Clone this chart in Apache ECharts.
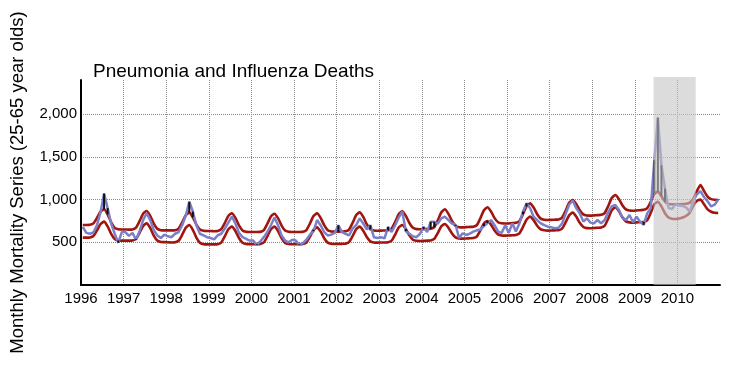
<!DOCTYPE html>
<html><head><meta charset="utf-8">
<script src="https://cdn.jsdelivr.net/npm/echarts@6/dist/echarts.min.js"></script>
<style>html,body{margin:0;padding:0;background:#fff}#c{width:733px;height:366px}</style>
</head><body><div id="c"></div>
<script>
const startYear = 1996;
const yearTicks = [1996,1997,1998,1999,2000,2001,2002,2003,2004,2005,2006,2007,2008,2009,2010];
const yTicks = [500, 1000, 1500, 2000];

const observed = [
  680,610,600,615,700,850,1070,900,720,600,495,620,
  620,575,610,530,630,760,840,760,640,580,550,590,
  570,560,600,620,700,810,975,860,700,600,580,560,
  550,535,580,600,660,730,800,720,610,560,540,520,
  520,470,510,560,620,700,790,700,580,520,500,530,
  520,470,490,530,590,630,760,700,620,580,590,610,
  700,620,600,580,660,700,780,720,650,700,560,550,
  560,545,680,620,700,790,860,630,600,570,560,600,
  680,620,740,740,720,780,800,760,720,705,550,605,
  586,600,625,640,650,690,725,760,700,625,610,700,
  610,722,625,720,860,956,900,800,760,722,700,683,
  675,664,670,720,830,940,990,900,840,742,781,730,
  722,761,722,761,850,920,937,880,790,761,820,735,
  800,740,705,839,900,1460,1960,1400,1130,900,890,950,
  930,925,905,860,990,1060,1100,1030,980,920,940,1000
];
const upperThreshold = [
  703,703,705,721,785,859,886,827,733,669,652,650,
  650,648,650,672,748,834,867,810,719,658,642,640,
  640,639,641,661,733,816,847,793,707,649,634,632,
  632,630,632,653,726,809,840,785,698,639,623,621,
  621,620,622,642,717,803,835,782,696,638,623,621,
  621,621,623,643,720,807,840,786,700,642,627,625,
  625,626,628,648,727,817,851,797,711,653,638,636,
  637,638,640,659,738,829,863,810,726,669,654,652,
  654,656,658,677,757,851,886,833,749,692,677,675,
  678,680,682,701,781,875,910,861,783,735,722,720,
  722,725,728,748,828,921,956,907,829,777,763,761,
  763,765,768,788,868,962,995,949,876,827,814,812,
  815,818,821,842,924,1018,1054,1008,934,885,872,870,
  873,876,880,900,975,1065,1093,1040,975,950,945,945,
  946,948,952,965,1010,1100,1171,1100,1035,1005,998,995
];
const lowerThreshold = [
  555,555,557,574,639,714,742,686,598,538,522,520,
  520,519,521,540,611,692,722,667,579,520,504,502,
  500,498,500,518,588,669,703,646,555,494,478,476,
  476,476,478,497,569,652,683,632,550,494,480,478,
  478,478,480,498,570,652,683,632,549,493,479,477,
  477,477,479,497,566,645,675,626,548,496,482,480,
  481,482,484,502,572,653,683,636,561,511,498,496,
  497,498,500,519,591,673,703,656,581,530,517,515,
  517,519,521,539,608,687,714,671,603,557,545,543,
  545,547,549,567,638,721,750,707,638,592,580,578,
  580,582,585,604,679,765,800,759,694,651,640,637,
  638,640,642,661,733,815,847,801,728,679,666,664,
  667,670,673,693,777,873,910,865,793,745,733,730,
  733,735,738,760,845,945,975,920,840,790,775,772,
  778,790,810,850,930,985,1000,945,885,858,846,843
];
const pandemicPeriod = [2009.44, 2010.43];

const FONT = "'Liberation Sans', Arial, sans-serif";
const monthX = i => startYear + (i + 0.5) / 12;
const obsData = observed.map((v, i) => [monthX(i), v]);
const upData = upperThreshold.map((v, i) => [monthX(i), v]);
const loData = lowerThreshold.map((v, i) => [monthX(i), v]);
const exceed = [];
observed.forEach((v, i) => {
  if (v > upperThreshold[i]) exceed.push([monthX(i), upperThreshold[i], v]);
  else if (v < lowerThreshold[i]) exceed.push([monthX(i), v, lowerThreshold[i]]);
});

const chart = echarts.init(document.getElementById('c'), null, {renderer: 'canvas'});
chart.setOption({
  animation: false,
  title: {
    text: 'Pneumonia and Influenza Deaths', left: 93, top: 62, padding: 0,
    textStyle: {fontFamily: FONT, fontSize: 19, fontWeight: 'normal', color: '#000'}
  },
  grid: {left: 80, right: 13, top: 80, bottom: 81},
  xAxis: {
    type: 'value', min: yearTicks[0], max: 2011, interval: 1,
    axisLine: {lineStyle: {color: '#000', width: 2}},
    axisTick: {show: false},
    axisLabel: {fontFamily: FONT, fontSize: 15, color: '#000', margin: 6, showMaxLabel: false,
      formatter: v => yearTicks.indexOf(v) >= 0 ? String(v) : ''},
    splitLine: {show: true, showMinLine: false, showMaxLine: false, lineStyle: {type: 'dotted', color: '#8a8a8a', width: 1}}
  },
  yAxis: {
    type: 'value', min: 0, max: 2400, interval: 500,
    name: 'Monthly Mortality Series (25-65 year olds)', nameLocation: 'middle', nameGap: 54,
    nameTextStyle: {fontFamily: FONT, fontSize: 18.5, color: '#000'},
    axisLine: {show: true, lineStyle: {color: '#000', width: 2}},
    axisTick: {show: false},
    axisLabel: {fontFamily: FONT, fontSize: 15, color: '#000', margin: 4,
      formatter: v => yTicks.indexOf(v) >= 0 ? v.toLocaleString('en-US') : ''},
    splitLine: {show: true, showMinLine: false, showMaxLine: false, lineStyle: {type: 'dotted', color: '#8a8a8a', width: 1}}
  },
  series: [
    {type: 'line', data: upData, symbol: 'none', smooth: 0.2, z: 2, lineStyle: {color: '#a0160f', width: 2.6}},
    {type: 'line', data: loData, symbol: 'none', smooth: 0.2, z: 2, lineStyle: {color: '#a0160f', width: 2.6}},
    {type: 'line', data: obsData, symbol: 'none', z: 3, lineStyle: {color: '#7b7fc9', width: 2.5}},
    {type: 'custom', data: exceed, z: 4, silent: true, encode: {x: 0, y: [1, 2]},
      renderItem: (params, api) => {
        const a = api.coord([api.value(0), api.value(1)]);
        const b = api.coord([api.value(0), api.value(2)]);
        return {type: 'line', shape: {x1: a[0], y1: a[1], x2: b[0], y2: b[1]}, style: {stroke: '#111', lineWidth: 2}};
      }},
    {type: 'custom', data: [[pandemicPeriod[0], pandemicPeriod[1], 0]], z: 5, silent: true, encode: {x: [0, 1], y: 2},
      renderItem: (params, api) => {
        const a = api.coord([api.value(0), 2435]);
        const b = api.coord([api.value(1), 0]);
        return {type: 'rect', shape: {x: a[0], y: a[1], width: b[0] - a[0], height: b[1] - a[1]}, style: {fill: 'rgba(197,197,197,0.6)'}};
      }}
  ]
});
</script>
</body></html>
